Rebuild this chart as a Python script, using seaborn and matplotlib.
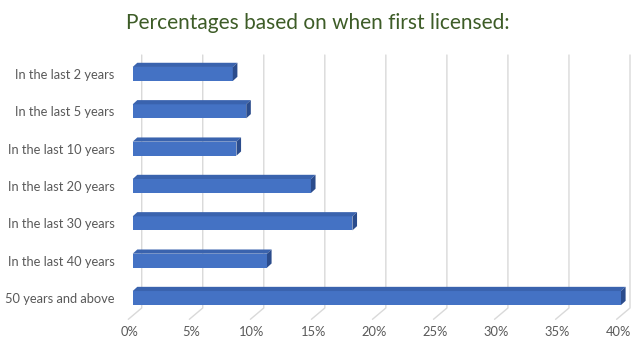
import matplotlib
matplotlib.use("Agg")
import matplotlib.pyplot as plt
import seaborn as sns
import pandas as pd
from matplotlib.patches import Polygon
from matplotlib.lines import Line2D
from matplotlib.transforms import IdentityTransform, ScaledTranslation

categories = ["In the last 2 years", "In the last 5 years", "In the last 10 years",
              "In the last 20 years", "In the last 30 years", "In the last 40 years",
              "50 years and above"]
values = [8.2, 9.3, 8.5, 14.6, 18.0, 11.0, 40.0]
xticks = [0, 5, 10, 15, 20, 25, 30, 35, 40]
xtick_labels = ["0%", "5%", "10%", "15%", "20%", "25%", "30%", "35%", "40%"]
title = "Percentages based on when first licensed:"

sns.set_style("white")
plt.rcParams["font.family"] = ["Lato", "DejaVu Sans"]

W, H = 643, 354
fig = plt.figure(figsize=(W / 100, H / 100), dpi=100)
left_px, right_px = 132.7, 621.0
top_px, bot_px = 55.3, 316.7
ax = fig.add_axes([left_px / W, 1 - bot_px / H, (right_px - left_px) / W, (bot_px - top_px) / H])
ax.patch.set_visible(False)

df = pd.DataFrame({"category": categories, "value": values})
sns.barplot(data=df, y="category", x="value", orient="h", color="#4472C4",
            width=0.375, saturation=1, ax=ax, zorder=3, edgecolor="none", linewidth=0)
ax.set_xlim(0, 40)
ax.set_ylim(6.5, -0.5)
sns.despine(ax=ax, left=True, bottom=True, top=True, right=True)
ax.set_xlabel("")
ax.set_ylabel("")
ax.set_xticks(xticks)
ax.set_xticklabels(xtick_labels)
ax.tick_params(axis="both", length=0, labelsize=9.3, colors="#595959")
ax.tick_params(axis="y", pad=13)
ax.tick_params(axis="x", pad=7)
for lab in ax.get_xticklabels():
    lab.set_transform(lab.get_transform() + ScaledTranslation(-2.7 / 100, 0, fig.dpi_scale_trans))

ident = IdentityTransform()
# back wall gridlines + floor diagonals
for v in xticks:
    xb = ax.transData.transform((v, 0))[0] + 9.0
    ln = Line2D([xb, xb, xb - 13.4], [H - 55, H - 308, H - 319.3], transform=ident,
                color="#D9D9D9", lw=1.0, zorder=0, clip_on=False)
    ax.add_line(ln)

# 3D faces of bars
dx, dy = 4.6, 4.2
for p in list(ax.patches):
    x0, y0 = p.get_x(), p.get_y()
    w, h = p.get_width(), p.get_height()
    (X0, Ya) = ax.transData.transform((x0, y0))
    (X1, Yb) = ax.transData.transform((x0 + w, y0 + h))
    ytop, ybot = max(Ya, Yb), min(Ya, Yb)
    top = Polygon([(X0, ytop), (X1, ytop), (X1 + dx, ytop + dy), (X0 + dx, ytop + dy)],
                  closed=True, transform=ident, facecolor="#3A63AE", edgecolor="none",
                  zorder=3, clip_on=False)
    side = Polygon([(X1, ytop), (X1 + dx, ytop + dy), (X1 + dx, ybot + dy), (X1, ybot)],
                   closed=True, transform=ident, facecolor="#2B4C8C", edgecolor="none",
                   zorder=3, clip_on=False)
    ax.add_patch(top)
    ax.add_patch(side)

fig.text(318 / W, 1 - 23 / H, title, ha="center", va="center", fontsize=15, color="#3D5C27")

fig.savefig("out.png", dpi=100)
